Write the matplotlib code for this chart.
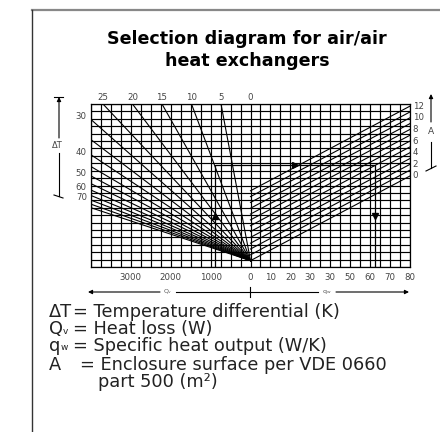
import numpy as np
import matplotlib
matplotlib.use("Agg")
import matplotlib.pyplot as plt
from matplotlib.lines import Line2D

# 1. data (nomogram scales)
dT_lines = [5, 10, 15, 20, 25, 30, 35, 40, 45, 50, 55, 60, 65, 70, 75, 80]
dT_top_labels = [25, 20, 15, 10, 5, 0]
dT_left_labels = [30, 40, 50, 60, 70]
A_lines = [0, 1, 2, 3, 4, 5, 6, 7, 8, 9, 10, 11, 12]
A_labels = [12, 10, 8, 6, 4, 2, 0]
qv_ticks = [3000, 2000, 1000]
qw_ticks = [0, 10, 20, 30, 40, 50, 60, 70, 80]
qw_tick_labels = ["0", "10", "20", "30", "30", "50", "60", "70", "80"]
k_wall = 5.5          # W/(m2 K), wall heat transfer used for the A lines
qv_max = 4000         # W at left edge
qw_max = 80           # W/K at right edge
h_min, h_max = -6, 148  # vertical scale (W/K)
ex_qv, ex_dT, ex_A = 900, 10, 5   # worked example

W, H = 440, 432
qv_per_unit = qv_max / qw_max


def fp(x, y):
    # reference pixel (from top-left) -> figure pixels
    return (x, H - y)


fig = plt.figure(figsize=(W / 100, H / 100), dpi=100)
fig.patch.set_facecolor("white")

ax = fig.add_axes([91 / W, 1 - 267 / H, 319 / W, 163 / H])
ax.set_xlim(-qw_max, qw_max)
ax.set_ylim(h_min, h_max)
ax.set_xticks([])
ax.set_yticks([])
for s in ax.spines.values():
    s.set_linewidth(0.9)

# 2. grid
grid_kw = dict(color="black", lw=0.85, zorder=1)
for u in np.arange(-qw_max, qw_max + 1, 5):
    ax.axvline(u, **grid_kw)
for h in np.arange(h_min, h_max + 1, 7):
    ax.axhline(h, **grid_kw)

# 3. fan of temperature-differential lines (left half)
for dT in dT_lines:
    h_end = qv_max / dT
    qv_end = qv_max
    if h_end > h_max:
        h_end = h_max
        qv_end = h_max * dT
    ax.plot([0, -qv_end / qv_per_unit], [0, h_end], color="black", lw=0.8, zorder=2)

lab_kw = dict(fontsize=6.2, color="#444")
for dT in dT_top_labels:
    ax.annotate(str(dT), (-h_max * dT / qv_per_unit, h_max), xytext=(0, 1.5),
                textcoords="offset points", ha="center", va="bottom", **lab_kw)
for dT in dT_left_labels:
    ax.annotate(str(dT), (-qw_max, qv_max / dT), xytext=(-3, 2),
                textcoords="offset points", ha="right", va="center", **lab_kw)

# 4. enclosure surface lines (right half)
for A in A_lines:
    ax.plot([0, qw_max], [k_wall * A, qw_max + k_wall * A], color="black", lw=0.8, zorder=2)
for A in A_labels:
    ax.annotate(str(A), (qw_max, qw_max + k_wall * A), xytext=(2, 0),
                textcoords="offset points", ha="left", va="center", **lab_kw)

# bottom scale
for q in qv_ticks:
    ax.annotate(str(q), (-q / qv_per_unit, h_min), xytext=(0, -4),
                textcoords="offset points", ha="center", va="top", **lab_kw)
for q, t in zip(qw_ticks, qw_tick_labels):
    ax.annotate(t, (q, h_min), xytext=(0, -4),
                textcoords="offset points", ha="center", va="top", **lab_kw)

# 5. worked example path
ex_h = ex_qv / ex_dT
ex_u = -ex_qv / qv_per_unit
ex_qw = ex_h - k_wall * ex_A
ax.plot([ex_u, ex_u, ex_qw, ex_qw], [h_min, ex_h, ex_h, h_min], color="black", lw=0.9, zorder=3)
ax.plot(ex_u, (h_min + ex_h) / 2, marker="^", color="black", ms=4, zorder=4)
ax.plot((ex_u + ex_qw) / 2, ex_h, marker=">", color="black", ms=4, zorder=4)
ax.plot(ex_qw, (h_min + ex_h) / 2, marker="v", color="black", ms=4, zorder=4)

# 6. side / bottom arrows
ln = dict(color="black", lw=0.8)
arr = dict(arrowstyle="-|>", color="black", lw=0.8, mutation_scale=6, shrinkA=0, shrinkB=0)


def seg(p, q, **kw):
    fig.add_artist(Line2D([p[0] / W, q[0] / W], [1 - p[1] / H, 1 - q[1] / H], **kw))


def arrow(p_from, p_to):
    fig.add_artist(plt.Annotation("", xy=fp(*p_to), xytext=fp(*p_from),
                                  xycoords="figure pixels", textcoords="figure pixels",
                                  arrowprops=arr))


# dT arrow (left)
seg((54, 97), (63, 97), **ln)
arrow((59, 138), (59, 97))
seg((59, 153), (59, 196), **ln)
seg((54, 195), (63, 198), **ln)
fig.text(57 / W, 1 - 145 / H, "\u0394T", ha="center", va="center", fontsize=6, color="#444")

# A arrow (right)
arrow((431, 122), (431, 94))
seg((431, 142), (431, 168), **ln)
seg((426, 171), (436, 166), **ln)
fig.text(431 / W, 1 - 132 / H, "A", ha="center", va="center", fontsize=6.5, color="#444")

# bottom Qv / qw arrows
arrow((160, 292), (88, 292))
seg((176, 292), (318, 292), **ln)
seg((250, 287), (250, 297), **ln)
arrow((336, 292), (409, 292))
fig.text(168 / W, 1 - 292 / H, r"Q$_\mathregular{v}$", ha="center", va="center", fontsize=4.5, color="#555")
fig.text(327 / W, 1 - 292 / H, r"q$_\mathregular{w}$", ha="center", va="center", fontsize=4.5, color="#555")

# frame
seg((32, 10), (440, 10), color="#888", lw=1.6)
seg((32, 10), (32, 432), color="#333", lw=1.0)

# 7. title
fig.text(247 / W, 1 - 50 / H, "Selection diagram for air/air\nheat exchangers",
         ha="center", va="center", fontsize=12.6, fontweight="bold", linespacing=1.3)

# 8. legend text
leg_kw = dict(fontsize=12.8, color="#222", va="center", ha="left")
sub_kw = dict(fontsize=6.5, color="#222", va="center", ha="left")
rows = [(312, "\u0394T", "", 0, "= Temperature differential (K)", 73),
        (329, "Q", "v", 63, "= Heat loss (W)", 73),
        (346, "q", "w", 61, "= Specific heat output (W/K)", 73),
        (365, "A", "", 0, "= Enclosure surface per VDE 0660", 80)]
for y, sym, sub, xs, txt, xe in rows:
    fig.text(49 / W, 1 - y / H, sym, **leg_kw)
    if sub:
        fig.text(xs / W, 1 - (y + 2) / H, sub, **sub_kw)
    fig.text(xe / W, 1 - y / H, txt, **leg_kw)
fig.text(98 / W, 1 - 382 / H, "part 500 (m\u00b2)", **leg_kw)

fig.savefig("out.png", dpi=100)
